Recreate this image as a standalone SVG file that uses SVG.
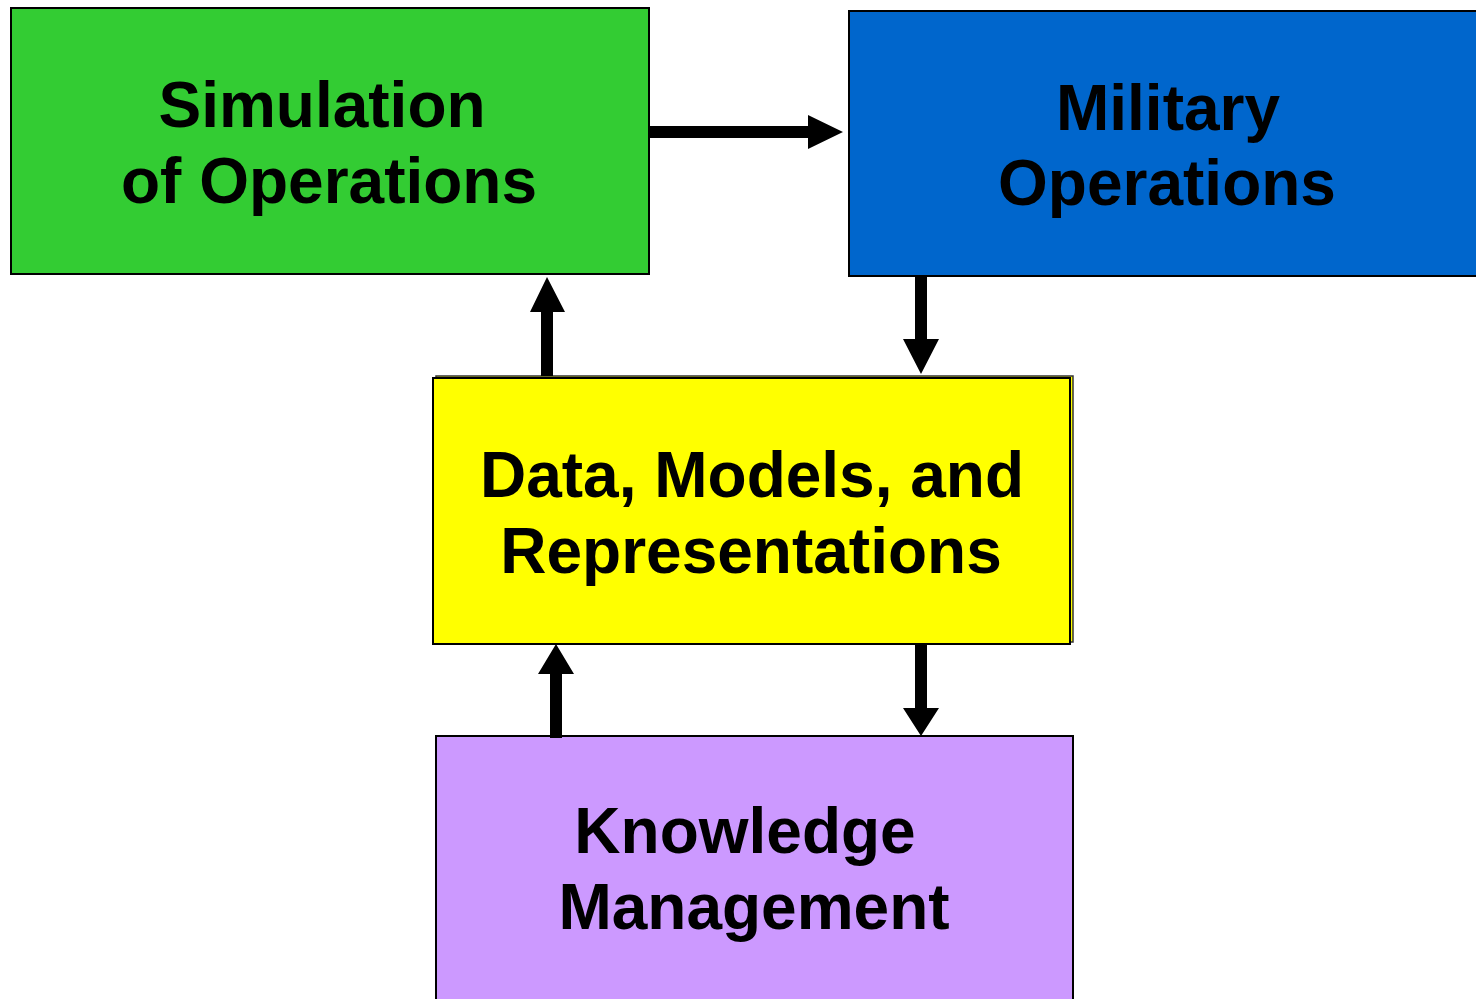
<svg xmlns="http://www.w3.org/2000/svg" width="1476" height="999" viewBox="0 0 1476 999">
<style>
.box{stroke:#000;stroke-width:2}
.t{font-family:"Liberation Sans",Arial,sans-serif;font-weight:bold;font-size:64px;fill:#000;text-anchor:middle}
.shaft{fill:#000}
</style>
<rect width="1476" height="999" fill="#fff"/>
<g id="sim">
<rect class="box" x="11" y="8" width="638" height="266" fill="#33CC33"/>
<text class="t" x="322" y="127">Simulation</text>
<text class="t" x="329" y="203">of Operations</text>
</g>
<g id="mil">
<rect class="box" x="849" y="11" width="640" height="265" fill="#0066CC"/>
<text class="t" x="1168" y="130">Military</text>
<text class="t" x="1167" y="205">Operations</text>
</g>
<g id="data">
<rect x="436" y="376" width="637" height="266" fill="#FFFF00" stroke="#333" stroke-width="1.5"/>
<rect class="box" x="433" y="378" width="637" height="266" fill="#FFFF00"/>
<text class="t" x="752" y="497">Data, Models, and</text>
<text class="t" x="751" y="573">Representations</text>
</g>
<g id="km">
<rect class="box" x="436" y="736" width="637" height="270" fill="#CC99FF"/>
<text class="t" x="745" y="853">Knowledge</text>
<text class="t" x="754" y="929">Management</text>
</g>
<g id="connectors">
<polygon class="shaft" points="650,126 808,126 808,115 843,132 808,149 808,138 650,138"/>
<polygon class="shaft" points="541,376 541,312 530,312 547,277 565,312 553,312 553,376"/>
<polygon class="shaft" points="915,277 927,277 927,339 939,339 921,374 903,339 915,339"/>
<polygon class="shaft" points="550,738 550,674 538,674 556,644 574,674 562,674 562,738"/>
<polygon class="shaft" points="915,645 927,645 927,708 939,708 921,736 903,708 915,708"/>
</g>
</svg>
